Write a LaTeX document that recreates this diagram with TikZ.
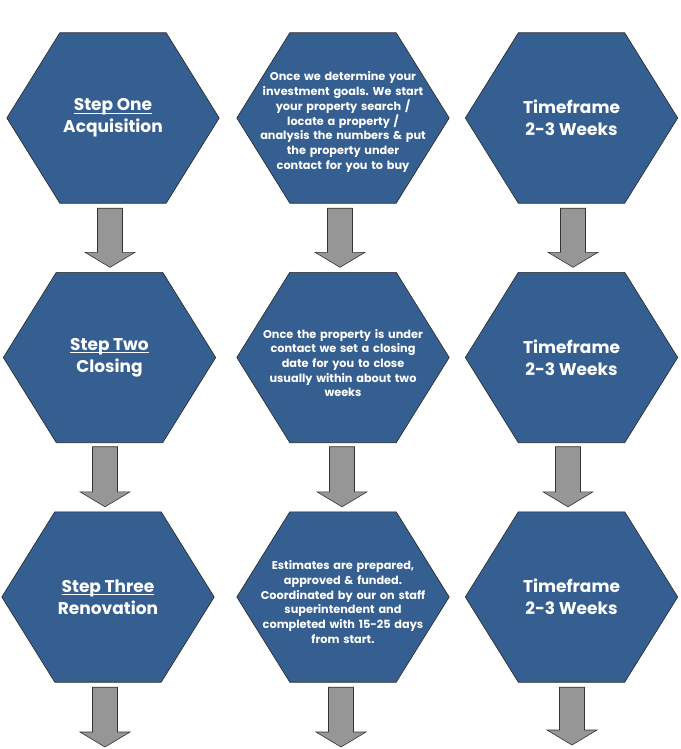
\documentclass[tikz,border=0pt]{standalone}
\usepackage{fontspec}
\setmainfont{Poppins}
\frenchspacing
\usetikzlibrary{calc,backgrounds}
\definecolor{hexblue}{RGB}{54,95,145}
\definecolor{arrgray}{RGB}{150,150,150}
\newcommand\ulbox[1]{\leavevmode\setbox0\hbox{#1}\rlap{\rule[-3.2pt]{\wd0}{1pt}}\box0}
\newcommand\blockarr[2]{%
  \draw[blockarrow] let \p1=(#1), \p2=(#2) in
    (\x1-12.5pt,\y1) -- (\x1+12.5pt,\y1) -- (\x1+12.5pt,\y2+15pt) -- (\x1+25pt,\y2+15pt)
    -- (\x1,\y2) -- (\x1-25pt,\y2+15pt) -- (\x1-12.5pt,\y2+15pt) -- cycle;}
\begin{document}
\begin{tikzpicture}[x=1pt,y=-1pt,
  hexbox/.style={minimum width=212pt, minimum height=170pt, inner sep=0pt, align=center,
    text=white, font=\bfseries\fontsize{17}{22}\selectfont},
  hexsmall/.style={hexbox, font=\bfseries\fontsize{11.3}{14.7}\selectfont},
  hexshape/.style={fill=hexblue, draw=black!85, line width=0.6pt},
  blockarrow/.style={fill=arrgray, draw=black!80, line width=0.6pt}]
\useasboundingbox (0,0) rectangle (680,749);

% row 1
\node[hexbox] (s1) at (113,118) {\ulbox{Step One}\\Acquisition};
\node[hexsmall] (d1) at (343,118) {};
\node[hexsmall, text width=200pt] (d1t) at (343,122) {Once we determine your\\investment goals. We start\\your property search /\\locate a property /\\analysis the numbers \& put\\the property under\\contact for you to buy};
\node[hexbox] (t1) at (571.5,118) {Timeframe\\2-3 Weeks};
% row 2
\node[hexbox] (s2) at (109.5,357.5) {\ulbox{Step Two}\\Closing};
\node[hexsmall] (d2) at (343,357.5) {};
\node[hexsmall, text width=200pt] (d2t) at (343,363) {Once the property is under\\contact we set a closing\\date for you to close\\usually within about two\\weeks};
\node[hexbox] (t2) at (571.5,357.5) {Timeframe\\2-3 Weeks};
% row 3
\node[hexbox] (s3) at (108,597) {\ulbox{Step Three}\\Renovation};
\node[hexsmall] (d3) at (343,597) {};
\node[hexsmall, text width=200pt] (d3t) at (343,602) {Estimates are prepared,\\approved \& funded.\\Coordinated by our on staff\\superintendent and\\completed with 15-25 days\\from start.};
\node[hexbox] (t3) at (571.5,597) {Timeframe\\2-3 Weeks};

\begin{scope}[on background layer]
\foreach \n in {s1,d1,t1,s2,d2,t2,s3,d3,t3}
  \draw[hexshape] (\n.west) -- ([xshift=53pt]\n.north west) -- ([xshift=-53pt]\n.north east)
    -- (\n.east) -- ([xshift=-53pt]\n.south east) -- ([xshift=53pt]\n.south west) -- cycle;
\end{scope}

\coordinate (e1) at (105,747);
\coordinate (e2) at (341,747);
\coordinate (e3) at (572,745);

\blockarr{[xshift=-3pt,yshift=-5pt]s1.south}{[yshift=5pt]s2.north}
\blockarr{[xshift=-4.5pt,yshift=-4pt]s2.south}{[yshift=5pt]s3.north}
\blockarr{[xshift=-3pt,yshift=-5pt]s3.south}{e1}

\blockarr{[xshift=-3pt,yshift=-5pt]d1.south}{[yshift=5pt]d2.north}
\blockarr{[xshift=-1pt,yshift=-4pt]d2.south}{[yshift=5pt]d3.north}
\blockarr{[xshift=-2pt,yshift=-5pt]d3.south}{e2}

\blockarr{[xshift=1.5pt,yshift=-5pt]t1.south}{[yshift=5pt]t2.north}
\blockarr{[xshift=-3.5pt,yshift=-4pt]t2.south}{[yshift=5pt]t3.north}
\blockarr{[xshift=0.5pt,yshift=-5pt]t3.south}{e3}
\end{tikzpicture}
\end{document}
